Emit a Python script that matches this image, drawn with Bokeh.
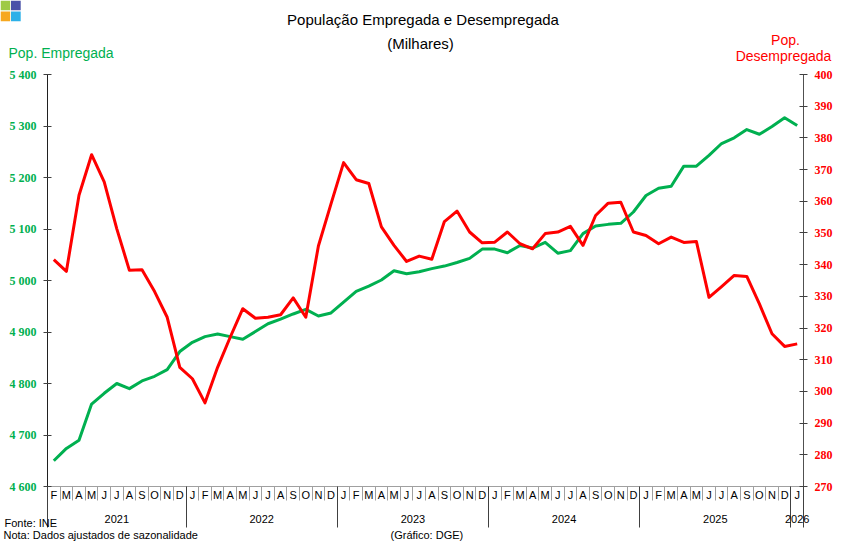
from bokeh.plotting import figure
from bokeh.models import Range1d, LinearAxis, FixedTicker, CustomJSTickFormatter, Label
from bokeh.embed import file_html
from bokeh.resources import INLINE

# ---------------- data ----------------
month_letters = ["F", "M", "A", "M", "J", "J", "A", "S", "O", "N", "D"] + \
    ["J", "F", "M", "A", "M", "J", "J", "A", "S", "O", "N", "D"] * 4 + ["J"]
years = ["2021", "2022", "2023", "2024", "2025", "2026"]
months_per_year = [11, 12, 12, 12, 12, 1]

employed = [4650, 4674, 4690, 4760, 4781, 4800, 4790, 4805, 4814, 4827, 4862, 4880,
            4891, 4896, 4891, 4886, 4901, 4916, 4925, 4935, 4944, 4931, 4937, 4958,
            4979, 4989, 5001, 5019, 5013, 5017, 5023, 5028, 5035, 5043, 5061, 5061,
            5054, 5068, 5063, 5074, 5053, 5058, 5091, 5106, 5109, 5111, 5133, 5165,
            5179, 5183, 5222, 5222, 5243, 5266, 5277, 5293, 5284, 5299, 5316, 5301]
unemployed = [341.6, 337.9, 361.9, 374.7, 366.1, 351.3, 338.2, 338.4, 331.5, 323.4, 307.6, 304.0,
              296.4, 307.6, 317.1, 326.1, 323.1, 323.4, 324.2, 329.5, 323.4, 345.9, 359.2, 372.2,
              366.8, 365.6, 351.9, 346.1, 341.0, 342.7, 341.7, 353.6, 356.9, 350.3, 346.9, 347.1,
              350.3, 346.6, 345.0, 349.8, 350.3, 352.1, 346.1, 355.5, 359.4, 359.7, 350.3, 349.2,
              346.6, 348.7, 347.0, 347.3, 329.7, 333.1, 336.6, 336.3, 327.6, 318.2, 314.2, 315.0]

left_min, left_max, left_step = 4600, 5400, 100
right_min, right_max, right_step = 270, 400, 10

n = len(month_letters)
xs = [i + 0.5 for i in range(n)]
bounds = [0]
for m in months_per_year:
    bounds.append(bounds[-1] + m)
mids = [(bounds[k] + bounds[k + 1]) / 2 for k in range(len(years))]
left_ticks = list(range(left_min, left_max + 1, left_step))
right_ticks = list(range(right_min, right_max + 1, right_step))

GREEN = "#00b050"
RED = "#ff0000"

# ---------------- layout (pixels inside the canvas) ----------------
W, H = 834, 542
CL, CR, CT, CB = 47, 803, 74, 486          # plotting area edges in canvas pixels
XS = (CR - CL) / n                          # px per month
YS = (CB - CT) / (left_max - left_min)      # px per unit, left scale
YSR = (CB - CT) / (right_max - right_min)   # px per unit, right scale

p = figure(width=W, height=H, output_backend="svg", toolbar_location=None, title=None,
           x_range=Range1d(-CL / XS, n + (W - CR) / XS),
           y_range=Range1d(left_min - (H - CB) / YS, left_max + CT / YS),
           min_border_left=0, min_border_right=0, min_border_top=0, min_border_bottom=0,
           x_axis_location=None, y_axis_location=None)
p.extra_y_ranges = {"r": Range1d(right_min - (H - CB) / YSR, right_max + CT / YSR)}
p.outline_line_color = None
p.grid.visible = False
p.background_fill_color = "white"
p.border_fill_color = "white"

lab_font = dict(major_label_text_font="Liberation Serif", major_label_text_font_style="bold",
                major_label_text_font_size="12px", major_label_standoff=7)

# left axis
yl = LinearAxis(fixed_location=0, bounds=(left_min, left_max),
                ticker=FixedTicker(ticks=left_ticks),
                formatter=CustomJSTickFormatter(code="const t=Math.round(tick); return Math.floor(t/1000)+' '+String(t%1000).padStart(3,'0');"),
                major_tick_in=4, major_tick_out=4, minor_tick_in=0, minor_tick_out=0,
                axis_line_color="#202020", major_tick_line_color="#404040",
                major_label_text_color=GREEN, **lab_font)
p.add_layout(yl, "left")

# right axis
yr = LinearAxis(y_range_name="r", fixed_location=n, bounds=(right_min, right_max),
                ticker=FixedTicker(ticks=right_ticks),
                formatter=CustomJSTickFormatter(code="return Math.round(tick).toString();"),
                major_tick_in=4, major_tick_out=4, minor_tick_in=0, minor_tick_out=0,
                axis_line_color="#505050", major_tick_line_color="#404040",
                major_label_text_color=RED, **lab_font)
p.add_layout(yr, "right")

# month axis
xa = LinearAxis(fixed_location=left_min, bounds=(0, n),
                ticker=FixedTicker(ticks=xs, minor_ticks=list(range(n + 1))),
                formatter=CustomJSTickFormatter(args=dict(labels=month_letters),
                                                code="const i=Math.floor(tick); return (i>=0 && i<labels.length) ? labels[i] : '';"),
                major_tick_in=0, major_tick_out=0, minor_tick_in=0, minor_tick_out=14,
                minor_tick_line_color="#a0a0a0", axis_line_color="#a0a0a0",
                major_label_text_font="Liberation Sans", major_label_text_font_size="11px",
                major_label_text_color="#000000", major_label_standoff=-12)
p.add_layout(xa, "below")

# year axis
xb = LinearAxis(fixed_location=left_min, bounds=(0, n),
                ticker=FixedTicker(ticks=mids, minor_ticks=bounds),
                formatter=CustomJSTickFormatter(args=dict(labels=years, mids=mids),
                                                code="for (let k=0;k<mids.length;k++){ if (Math.abs(mids[k]-tick)<1e-6) return labels[k]; } return '';"),
                major_tick_in=0, major_tick_out=0, minor_tick_in=0, minor_tick_out=41,
                minor_tick_line_color="#404040", axis_line_color=None, major_tick_line_color=None,
                major_label_text_font="Liberation Sans", major_label_text_font_size="11px",
                major_label_text_color="#000000", major_label_standoff=-13)
p.add_layout(xb, "below")

# series
p.line(xs, employed, line_color=GREEN, line_width=3, line_join="round")
p.line(xs, unemployed, line_color=RED, line_width=3, line_join="round", y_range_name="r")

# helpers: canvas pixel -> data coordinates (text placement only)
def DX(px):
    return (px - CL) / XS
def DY(py):
    return left_max - (py - CT) / YS

def add_text(txt, px, py, size, color="#000000", align="left"):
    p.add_layout(Label(x=DX(px), y=DY(py), text=txt, text_align=align, text_baseline="middle",
                       text_font="Liberation Sans", text_font_size=size, text_color=color))

add_text("População Empregada e Desempregada", 422.5, 19, "15px", align="center")
add_text("(Milhares)", 420, 42.5, "15px", align="center")
add_text("Pop. Empregada", 8, 52, "14px", GREEN)
add_text("Pop.", 785, 39, "14px", RED, align="center")
add_text("Desempregada", 783, 55, "14px", RED, align="center")
add_text("Fonte: INE", 4, 522, "11px")
add_text("Nota: Dados ajustados de sazonalidade", 3, 534, "11px")
add_text("(Gráfico: DGE)", 390, 534, "11px")

# logo (four small squares, top-left corner)
logo_colors = ["#9fca45", "#4a52a8", "#f6a81f", "#2cb0e8"]
logo_px = [(0, 0), (10.5, 0), (0, 11), (10.5, 11)]
p.quad(left=[DX(a) for a, b in logo_px], right=[DX(a + 9.7) for a, b in logo_px],
       top=[DY(b) for a, b in logo_px], bottom=[DY(b + 9.7) for a, b in logo_px],
       fill_color=logo_colors, line_color=None)

open("out.html", "w").write(file_html(p, INLINE))
